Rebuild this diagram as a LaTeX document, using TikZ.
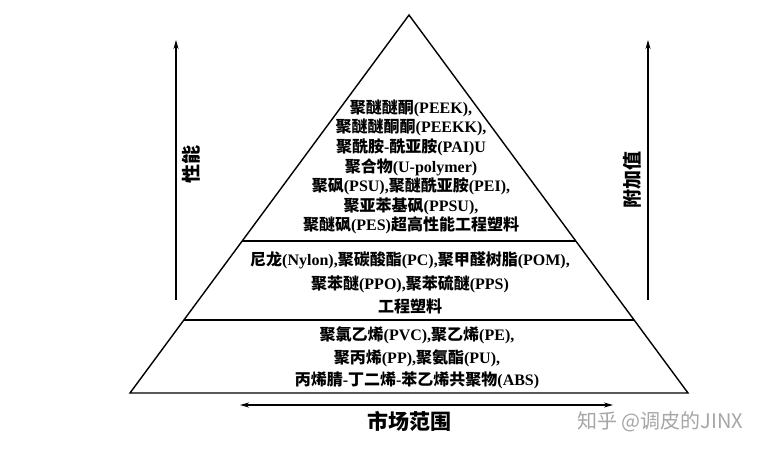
\documentclass[tikz,border=0pt]{standalone}
\usepackage{fontspec}
\setmainfont{Liberation Serif}
\newfontfamily\cjk{Noto Sans CJK SC}
\newcommand{\zh}[1]{{\cjk #1}}
\usetikzlibrary{arrows.meta,calc}
\begin{document}
\begin{tikzpicture}[x=1pt,y=-1pt,
  tri/.style={line width=1.4pt,line join=miter},
  sep/.style={line width=1.4pt},
  axis/.style={line width=1.3pt,-{Stealth[length=9pt,width=5pt]}},
  both/.style={line width=1.3pt,{Stealth[length=9pt,width=5pt]}-{Stealth[length=9pt,width=5pt]}},
  body/.style={align=center,font=\fontsize{16}{19.6}\selectfont\bfseries,inner sep=0pt},
  lab/.style={font=\fontsize{19}{22}\selectfont\cjk\bfseries,inner sep=0pt}]
\useasboundingbox (0,0) rectangle (778,451);
\fill[white] (0,0) rectangle (778,451);
\coordinate (apex) at (409,15);
\coordinate (bl) at (130,393);
\coordinate (br) at (688,393);
\draw[tri] (bl) -- (apex) -- (br) -- cycle;
\coordinate (l1) at ($(bl)!0.4021!(apex)$);
\coordinate (r1) at ($(br)!0.4021!(apex)$);
\coordinate (l2) at ($(bl)!0.1931!(apex)$);
\coordinate (r2) at ($(br)!0.1931!(apex)$);
\draw[sep] (l1) -- (r1);
\draw[sep] (l2) -- (r2);
\node[body] (top) at (411,167) {%
\zh{聚醚醚酮}(PEEK),\\
\zh{聚醚醚酮酮}(PEEKK),\\
\zh{聚酰胺}-\zh{酰亚胺}(PAI)U\\
\zh{聚合物}(U-polymer)\\
\zh{聚砜}(PSU),\zh{聚醚酰亚胺}(PEI),\\
\zh{聚亚苯基砜}(PPSU),\\
\zh{聚醚砜}(PES)\zh{超高性能工程塑料}};
\node[body,font=\fontsize{16}{23.5}\selectfont\bfseries] (mid) at (410,283) {%
\zh{尼龙}(Nylon),\zh{聚碳酸酯}(PC),\zh{聚甲醛树脂}(POM),\\
\zh{聚苯醚}(PPO),\zh{聚苯硫醚}(PPS)\\
\zh{工程塑料}};
\node[body,font=\fontsize{16}{22.5}\selectfont\bfseries] (bot) at (417,358) {%
\zh{聚氯乙烯}(PVC),\zh{聚乙烯}(PE),\\
\zh{聚丙烯}(PP),\zh{聚氨酯}(PU),\\
\zh{丙烯腈}-\zh{丁二烯}-\zh{苯乙烯共聚物}(ABS)};
\coordinate (la0) at (176,300);
\coordinate (la1) at (176,40);
\coordinate (ra0) at (648,300);
\coordinate (ra1) at (648,40);
\draw[axis] (la0) -- (la1);
\draw[axis] (ra0) -- (ra1);
\node[lab,rotate=90] (perf) at (191,164) {性能};
\node[lab,rotate=90] (val) at (632,180) {附加值};
\coordinate (ba0) at (240,405);
\coordinate (ba1) at (613,405);
\draw[both] (ba0) -- (ba1);
\node[lab,font=\fontsize{21}{24}\selectfont\cjk\bfseries] (mkt) at (409,421) {市场范围};
\node[font=\fontsize{20}{24}\selectfont\cjk,text=black!35,inner sep=0pt] (wm) at (660,422) {知乎 @调皮的JINX};
\end{tikzpicture}
\end{document}
